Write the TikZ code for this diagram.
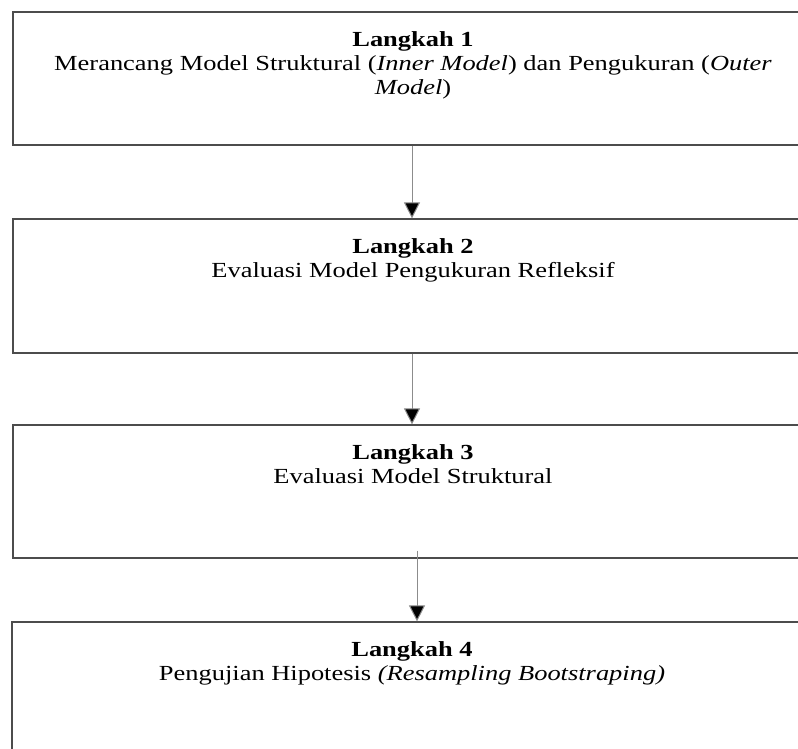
\documentclass[tikz,border=0pt]{standalone}
\usepackage{fontspec}
\setmainfont{Liberation Serif}[FakeStretch=1.23]
\usetikzlibrary{arrows.meta,positioning}

\begin{document}
\begin{tikzpicture}[x=1pt,y=-1pt,
        stepbox/.style={draw=black!70,line width=1.2pt,minimum width=800pt,inner sep=0pt},
        steptext/.style={align=center,inner sep=0pt,anchor=north,font=\fontsize{21.5}{24}\selectfont},
        flow/.style={draw=black!45,line width=1pt,-{Triangle[length=16pt,width=16pt,fill=black]}}]
        \useasboundingbox (0,0) rectangle (798,749);
        \clip (0,0) rectangle (798,749);

        \node[stepbox,minimum height=133pt] (b1) at (413,78.5) {};
        \node[stepbox,minimum height=134pt] (b2) at (413,286) {};
        \node[stepbox,minimum height=133pt] (b3) at (413,491.5) {};
        \node[stepbox,minimum height=133pt] (b4) at (412,688.5) {};

        \node[steptext,below=20pt of b1.north] (t1) {\textbf{Langkah 1}\\
                Merancang Model Struktural (\textit{Inner Model}) dan Pengukuran (\textit{Outer}\\
                \textit{Model})};
        \node[steptext,below=20pt of b2.north] (t2) {\textbf{Langkah 2}\\
                Evaluasi Model Pengukuran Refleksif};
        \node[steptext,below=20pt of b3.north] (t3) {\textbf{Langkah 3}\\
                Evaluasi Model Struktural};
        \node[steptext,below=20pt of b4.north] (t4) {\textbf{Langkah 4}\\
                Pengujian Hipotesis \textit{(Resampling Bootstraping)}};

        \coordinate (s3) at ([xshift=4pt,yshift=8pt]b3.south);
        \draw[flow] ([xshift=-1pt]b1.south) -- ([xshift=-1pt]b2.north);
        \draw[flow] ([xshift=-1pt]b2.south) -- ([xshift=-1pt]b3.north);
        \draw[flow] (s3) -- (s3 |- b4.north);

\end{tikzpicture}
\end{document}
